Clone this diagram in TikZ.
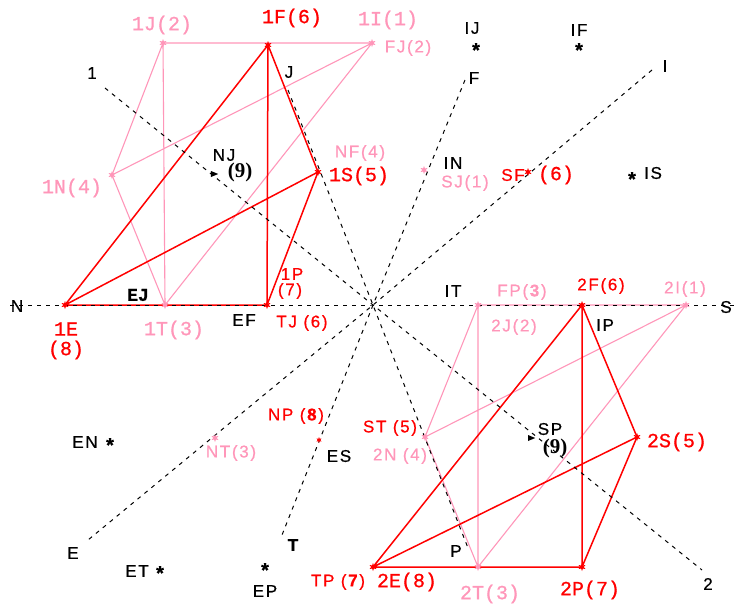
\documentclass[tikz,border=0pt]{standalone}
\usepackage{fontspec}
\setmainfont{Liberation Sans}
\newfontfamily\labsans[LetterSpace=10,FakeBold=0.6]{Liberation Sans}
\newfontfamily\labmono[FakeBold=0.8]{Liberation Mono}
\newfontfamily\labserif{Liberation Serif}
\usetikzlibrary{shapes.geometric}
\definecolor{pinkc}{RGB}{255,150,185}
\definecolor{redc}{RGB}{255,0,0}
\begin{document}
\begin{tikzpicture}[x=1pt,y=-1pt,
  sl/.style={font=\labsans\fontsize{17}{19}\selectfont, inner sep=0pt},
  ml/.style={font=\labmono\fontsize{20}{22}\selectfont, inner sep=0pt},
  bl/.style={sl,text=black},
  ast/.style={font=\labsans\bfseries\fontsize{20}{22}\selectfont, inner sep=0pt, text=black},
  rs/.style={sl,text=redc}, ps/.style={sl,text=pinkc},
  rm/.style={ml,text=redc}, pm/.style={ml,text=pinkc},
  nine/.style={font=\labserif\bfseries\fontsize{21}{23}\selectfont, inner sep=0pt},
  guide/.style={draw=black, line width=1pt, dash pattern=on 4pt off 5pt},
  redline/.style={draw=redc, line width=1.5pt},
  pinkline/.style={draw=pinkc, line width=1.1pt},
  rmark/.style={star, star points=6, star point ratio=2.2, fill=redc, inner sep=0pt, minimum size=8pt},
  pmark/.style={star, star points=6, star point ratio=2.2, fill=pinkc, inner sep=0pt, minimum size=8pt},
  tri/.style={isosceles triangle, fill=black, inner sep=0pt, minimum size=6pt, shape border rotate=-39}
]
\useasboundingbox (0,0) rectangle (738,603);
% centre and guide ends
\coordinate (O) at (373,305);
\coordinate (g1) at (105,88);   \coordinate (g2) at (702,570);
\coordinate (gJ) at (288,90);   \coordinate (gP) at (468,548);
\coordinate (gF) at (465,80);   \coordinate (gT) at (282,535);
\coordinate (gI) at (652,70);   \coordinate (gE) at (88,540);
\coordinate (gN) at (10,305);   \coordinate (gS) at (738,305);
% figure 1
\coordinate (v1J) at (163,43);  \coordinate (v1I) at (372,43);
\coordinate (v1N) at (112,175); \coordinate (v1T) at (165,305);
\coordinate (v1F) at (268,45);  \coordinate (v1S) at (318,172);
\coordinate (v1P) at (267,305); \coordinate (v1E) at (65,305);
% figure 2
\coordinate (v2J) at (478,305); \coordinate (v2I) at (686,305);
\coordinate (v2N) at (425,437); \coordinate (v2T) at (478,567);
\coordinate (v2F) at (582,305); \coordinate (v2S) at (637,437);
\coordinate (v2P) at (582,567); \coordinate (v2E) at (373,567);
% pink figures
\draw[pinkline] (v1J) -- (v1I) (v1J) -- (v1T) (v1J) -- (v1N) (v1N) -- (v1T) (v1N) -- (v1I) (v1T) -- (v1I);
\draw[pinkline] (v2J) -- (v2I) (v2J) -- (v2T) (v2J) -- (v2N) (v2N) -- (v2T) (v2N) -- (v2I) (v2T) -- (v2I);
% red figures
\draw[redline] (v1F) -- (v1S) (v1F) -- (v1P) (v1F) -- (v1E) (v1E) -- (v1S) (v1E) -- (v1P) (v1S) -- (v1P);
\draw[redline] (v2F) -- (v2S) (v2F) -- (v2P) (v2F) -- (v2E) (v2E) -- (v2S) (v2E) -- (v2P) (v2S) -- (v2P);
% guides
\draw[guide] (gN) -- (O) -- (gS);
\draw[guide] (g1) -- (O) -- (g2);
\draw[guide] (gJ) -- (O) -- (gP);
\draw[guide] (gF) -- (O) -- (gT);
\draw[guide] (gI) -- (O) -- (gE);
% vertex marks
\foreach \v in {v1J,v1I,v1N,v1T,v2J,v2I,v2N,v2T} \node[pmark] at (\v) {};
\foreach \v in {v1F,v1S,v1P,v1E,v2F,v2S,v2P,v2E} \node[rmark] at (\v) {};
\node[pmark] (mSJ) at (424,170) {};
\node[pmark] (mNT) at (215,438) {};
\node[rmark] (mSF) at (528,172) {};
\node[rmark,minimum size=6pt] (mNP) at (319,440) {};
\node[tri] (mNJ) at (213,174) {};
\node[tri] (mSP) at (530,438) {};
% labels
\node[pm] (l1J) at (162,25) {1J(2)};
\node[rm] (l1F) at (292,18) {1F(6)};
\node[pm] (l1I) at (388,20) {1I(1)};
\node[ps] (lFJ) at (408,48) {FJ(2)};
\node[bl] (lIJ) at (472,28) {IJ};
\node[ast] (sIJ) at (476,50) {*};
\node[bl] (lIF) at (579,30) {IF};
\node[ast] (sIF) at (579,50) {*};
\node[bl] (lF) at (474,78) {F};
\node[bl] (lI) at (665,66) {I};
\node[bl] (l1) at (92,73) {1};
\node[bl] (lJ) at (289,72) {J};
\node[bl] (lNJ) at (224,155) {NJ};
\node[nine] (n9a) at (240,172) {(9)};
\node[pm] (l1N) at (72,188) {1N(4)};
\node[ps] (lNF) at (360,153) {NF(4)};
\node[rm] (l1S) at (359,176) {1S(5)};
\node[bl] (lIN) at (453,163) {IN};
\node[ps] (lSJ) at (465,183) {SJ(1)};
\node[rs] (lSF) at (513,175) {SF};
\node[rm] (lSF6) at (556,175) {(6)};
\node[ast] (sIS) at (632,179) {*};
\node[bl] (lIS) at (653,173) {IS};
\node[ml,font=\labmono\bfseries\fontsize{18}{20}\selectfont] (lEJ) at (138,295) {EJ};
\node[pm] (l1T) at (174,330) {1T(3)};
\node[rm] (l1E) at (66,329) {1E};
\node[rm] (l1E8) at (66,350) {(8)};
\node[bl] (lN) at (17,306) {N};
\node[bl] (lEF) at (244,320) {EF};
\node[rs] (l1P) at (292,274) {1P};
\node[rs] (l1P7) at (290,291) {(7)};
\node[rs] (lTJ) at (302,323) {TJ (6)};
\node[bl] (lIT) at (453,291) {IT};
\node[ps] (lFP) at (522,292) {FP(\textbf{3})};
\node[ps] (l2J) at (514,327) {2J(2)};
\node[rs] (l2F) at (601,286) {2F(6)};
\node[ps] (l2I) at (685,289) {2I(1)};
\node[bl] (lS) at (726,307) {S};
\node[bl] (lIP) at (605,325) {IP};
\node[bl] (lEN) at (85,442) {EN};
\node[ast] (sEN) at (110,445) {*};
\node[ps] (lNT) at (231,453) {NT(3)};
\node[rs] (lNP) at (296,416) {NP (\textbf{8})};
\node[bl] (lES) at (339,456) {ES};
\node[rs] (lST) at (390,428) {ST (5)};
\node[ps] (l2N) at (400,456) {2N (4)};
\node[bl] (lE) at (73,553) {E};
\node[bl] (lET) at (137,571) {ET};
\node[ast] (sET) at (160,573) {*};
\node[bl,font=\labsans\bfseries\fontsize{17}{19}\selectfont] (lT) at (293,545) {T};
\node[ast] (sEP) at (265,570) {*};
\node[bl] (lEP) at (265,591) {EP};
\node[bl] (lP) at (456,551) {P};
\node[rs] (lTP) at (338,582) {TP (\textbf{7})};
\node[rm] (l2E) at (407,582) {2E(8)};
\node[pm] (l2T) at (490,594) {2T(3)};
\node[bl] (lSP) at (550,429) {SP};
\node[nine] (n9b) at (555,448) {(9)};
\node[rm] (l2S) at (677,442) {2S(5)};
\node[rm] (l2P) at (590,590) {2P(7)};
\node[bl] (l2) at (708,584) {2};
\end{tikzpicture}
\end{document}
